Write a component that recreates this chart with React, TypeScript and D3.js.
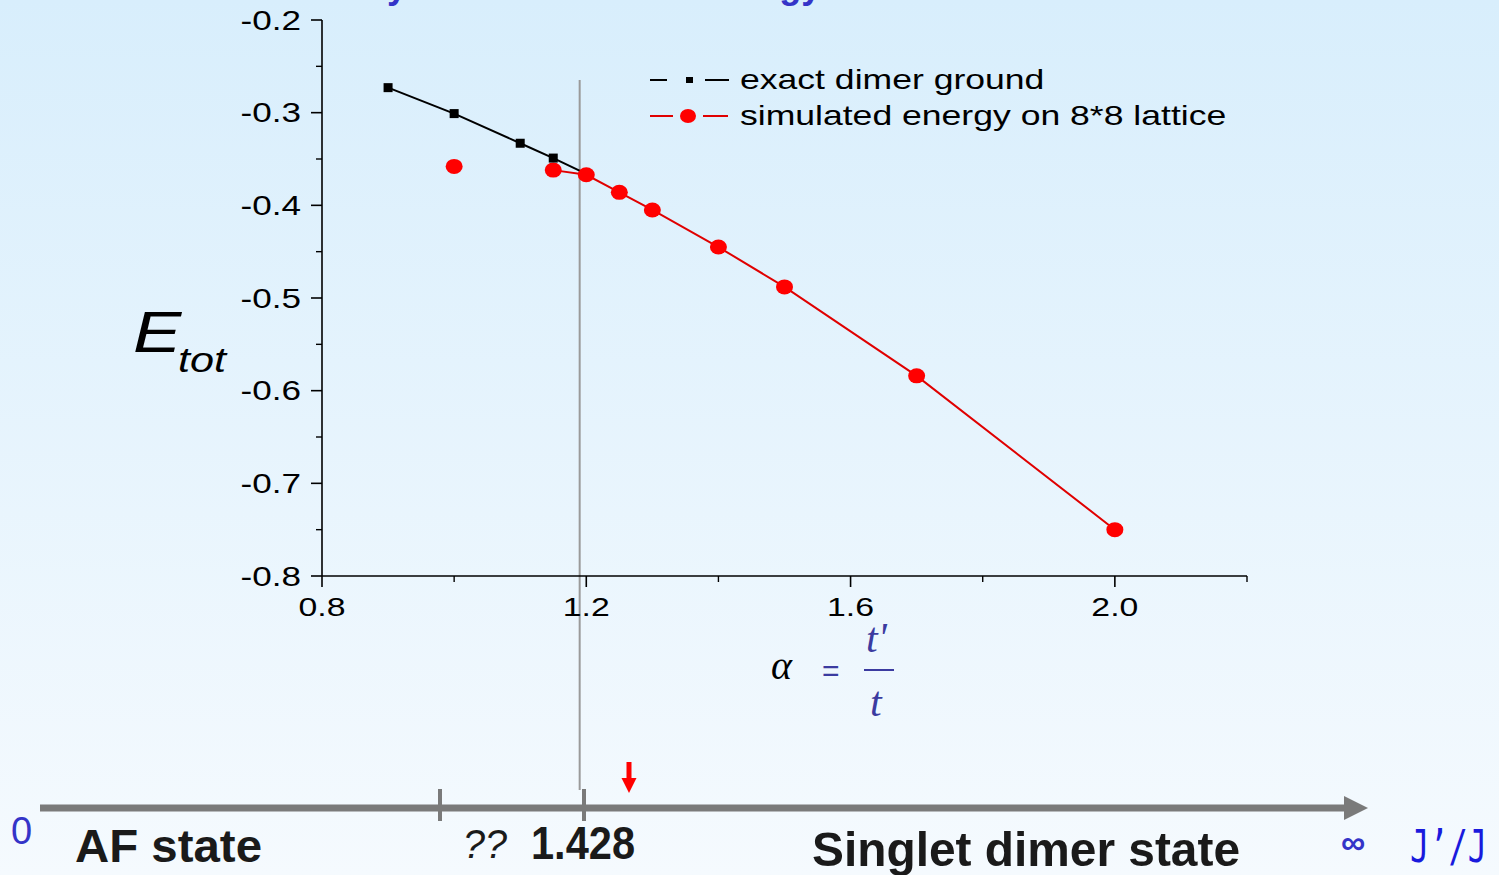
import * as d3 from "d3";

// exact dimer ground energy (black squares)
const alphaExact = [0.9, 1.0, 1.1, 1.15, 1.2];
const energyExact = [-0.273, -0.301, -0.333, -0.349, -0.366];

// simulated energy on 8*8 lattice (red dots)
const alphaSim = [1.0, 1.15, 1.2, 1.25, 1.3, 1.4, 1.5, 1.7, 2.0];
const energySim = [-0.358, -0.362, -0.367, -0.386, -0.405, -0.445, -0.488, -0.584, -0.75];

const xMajor = [0.8, 1.2, 1.6, 2.0];
const xMinor = [1.0, 1.4, 1.8, 2.2];
const yMajor = [-0.2, -0.3, -0.4, -0.5, -0.6, -0.7, -0.8];
const yMinor = [-0.25, -0.35, -0.45, -0.55, -0.65, -0.75];

const legendLabels = ["exact dimer ground", "simulated energy on 8*8 lattice"];
const markerAlpha = 1.19;

const W = 1499;
const H = 875;
const sans = "'Liberation Sans', Arial, sans-serif";
const serif = "'Liberation Serif', 'Times New Roman', serif";
const blue = "#3434c8";

const x = d3.scaleLinear().domain([0.8, 2.2]).range([322, 1247]);
const y = d3.scaleLinear().domain([-0.2, -0.8]).range([20, 576]);

// bottom schematic line
const lineY = 808;
const lineX0 = 40;
const lineX1 = 1368;
const stateTicks = [440, 584];

const App = () => {
  const exact = alphaExact.map((a, i) => ({ a, e: energyExact[i] }));
  const sim = alphaSim.map((a, i) => ({ a, e: energySim[i], i }));

  const line = d3
    .line<{ a: number; e: number }>()
    .x((d) => x(d.a))
    .y((d) => y(d.e));

  // the first simulated point is not joined to the others
  const simLine = d3
    .line<{ a: number; e: number; i: number }>()
    .defined((d) => d.i > 0)
    .x((d) => x(d.a))
    .y((d) => y(d.e));

  const xAxisY = y(-0.8);
  const yAxisX = x(0.8);

  return (
    <svg width={W} height={H} style={{ position: "absolute", left: 0, top: 0 }}>
      <defs>
        <linearGradient id="bg" x1="0" y1="0" x2="0" y2="1">
          <stop offset="0%" stopColor="#d8eefc" />
          <stop offset="100%" stopColor="#f5fafe" />
        </linearGradient>
      </defs>
      <rect width={W} height={H} fill="url(#bg)" />

      {/* title, cut off at the top */}
      <text x={245} y={-2} fontFamily={sans} fontWeight="bold" fontSize={36} fill={blue}>
        Accuracy of the simulated energy
      </text>

      {/* vertical marker */}
      <line x1={x(markerAlpha)} x2={x(markerAlpha)} y1={80} y2={790} stroke="#9a9a9a" strokeWidth={2} />

      {/* axes */}
      <line x1={yAxisX} x2={yAxisX} y1={y(-0.2)} y2={xAxisY} stroke="#000" strokeWidth={1.6} />
      <line x1={yAxisX} x2={x(2.2)} y1={xAxisY} y2={xAxisY} stroke="#000" strokeWidth={1.6} />
      {yMajor.map((t) => (
        <g key={t}>
          <line x1={yAxisX - 11} x2={yAxisX} y1={y(t)} y2={y(t)} stroke="#000" strokeWidth={1.6} />
          <g transform={`translate(301,${y(t) + 9.5}) scale(1.3,1)`}>
            <text textAnchor="end" fontFamily={sans} fontSize={27} fill="#000">
              {t.toFixed(1)}
            </text>
          </g>
        </g>
      ))}
      {yMinor.map((t) => (
        <line key={t} x1={yAxisX - 6} x2={yAxisX} y1={y(t)} y2={y(t)} stroke="#000" strokeWidth={1.4} />
      ))}
      {xMajor.map((t) => (
        <g key={t}>
          <line x1={x(t)} x2={x(t)} y1={xAxisY} y2={xAxisY + 11} stroke="#000" strokeWidth={1.6} />
          <g transform={`translate(${x(t)},${xAxisY + 40}) scale(1.3,1)`}>
            <text textAnchor="middle" fontFamily={sans} fontSize={26} fill="#000">
              {t.toFixed(1)}
            </text>
          </g>
        </g>
      ))}
      {xMinor.map((t) => (
        <line key={t} x1={x(t)} x2={x(t)} y1={xAxisY} y2={xAxisY + 6} stroke="#000" strokeWidth={1.4} />
      ))}

      {/* series */}
      <path d={simLine(sim) || ""} fill="none" stroke="#e00000" strokeWidth={2} />
      <path d={line(exact) || ""} fill="none" stroke="#000" strokeWidth={2} />
      {sim.map((d) => (
        <ellipse key={d.a} cx={x(d.a)} cy={y(d.e)} rx={8.5} ry={7.5} fill="#ff0000" />
      ))}
      {exact.slice(0, 4).map((d) => (
        <rect key={d.a} x={x(d.a) - 4.5} y={y(d.e) - 4.5} width={9} height={9} fill="#000" />
      ))}

      {/* legend */}
      <g>
        <line x1={650} x2={667} y1={80} y2={80} stroke="#000" strokeWidth={2} />
        <rect x={686} y={77} width={7} height={6} fill="#000" />
        <line x1={705} x2={729} y1={80} y2={80} stroke="#000" strokeWidth={2} />
        <line x1={650} x2={673} y1={116} y2={116} stroke="#e00000" strokeWidth={2} />
        <ellipse cx={688} cy={116} rx={8} ry={7} fill="#ff0000" />
        <line x1={703} x2={728} y1={116} y2={116} stroke="#e00000" strokeWidth={2} />
        {legendLabels.map((l, i) => (
          <g key={l} transform={`translate(740,${89 + i * 36}) scale(1.27,1)`}>
            <text fontFamily={sans} fontSize={28} fill="#000">
              {l}
            </text>
          </g>
        ))}
      </g>

      {/* y label E_tot */}
      <g transform="translate(133,352) scale(1.25,1)">
        <text fontFamily={sans} fontStyle="italic" fontSize={58} fill="#000">
          E
        </text>
      </g>
      <g transform="translate(178,372) scale(1.2,1)">
        <text fontFamily={sans} fontStyle="italic" fontSize={36} fill="#000">
          tot
        </text>
      </g>

      {/* x label alpha = t'/t */}
      <text x={771} y={679} fontFamily={serif} fontStyle="italic" fontSize={40} fill="#000">
        α
      </text>
      <text x={822} y={681} fontFamily={sans} fontSize={30} fill="#3b3ba0">
        =
      </text>
      <text x={866} y={652} fontFamily={serif} fontStyle="italic" fontSize={42} fill="#3b3ba0">
        t'
      </text>
      <line x1={864} x2={894} y1={670} y2={670} stroke="#3b3ba0" strokeWidth={2} />
      <text x={870} y={716} fontFamily={serif} fontStyle="italic" fontSize={42} fill="#3b3ba0">
        t
      </text>

      {/* bottom state line */}
      <line x1={lineX0} x2={lineX1 - 22} y1={lineY} y2={lineY} stroke="#7a7a7a" strokeWidth={7} />
      <path
        d={`M${lineX1 - 24},${lineY - 12} L${lineX1},${lineY} L${lineX1 - 24},${lineY + 12} Z`}
        fill="#7a7a7a"
      />
      {stateTicks.map((t) => (
        <line key={t} x1={t} x2={t} y1={789} y2={821} stroke="#7a7a7a" strokeWidth={4} />
      ))}
      <line x1={629} x2={629} y1={762} y2={780} stroke="#ff0000" strokeWidth={5} />
      <path d="M621.5,778 L636.5,778 L629,793 Z" fill="#ff0000" />

      <text x={11} y={844} fontFamily={sans} fontSize={38} fill={blue}>
        0
      </text>
      <text
        x={75}
        y={862}
        fontFamily={sans}
        fontWeight="bold"
        fontSize={46}
        fill="#1a1a1a"
        textLength={187}
        lengthAdjust="spacingAndGlyphs"
      >
        AF state
      </text>
      <text
        x={463}
        y={858}
        fontFamily={sans}
        fontStyle="italic"
        fontSize={40}
        fill="#1a1a1a"
        textLength={44}
        lengthAdjust="spacingAndGlyphs"
      >
        ??
      </text>
      <text
        x={531}
        y={859}
        fontFamily={sans}
        fontWeight="bold"
        fontSize={46}
        fill="#1a1a1a"
        textLength={104}
        lengthAdjust="spacingAndGlyphs"
      >
        1.428
      </text>
      <text
        x={812}
        y={866}
        fontFamily={sans}
        fontWeight="bold"
        fontSize={49}
        fill="#1a1a1a"
        textLength={428}
        lengthAdjust="spacingAndGlyphs"
      >
        Singlet dimer state
      </text>
      <text x={1341} y={854} fontFamily={sans} fontWeight="bold" fontSize={34} fill={blue}>
        ∞
      </text>
      <g transform="translate(1410,862) scale(1,1.4)">
        <text fontFamily="'DejaVu Sans Mono', monospace" fontSize={32} fill="#1a1add">
          J’/J
        </text>
      </g>
    </svg>
  );
};

export default App;
